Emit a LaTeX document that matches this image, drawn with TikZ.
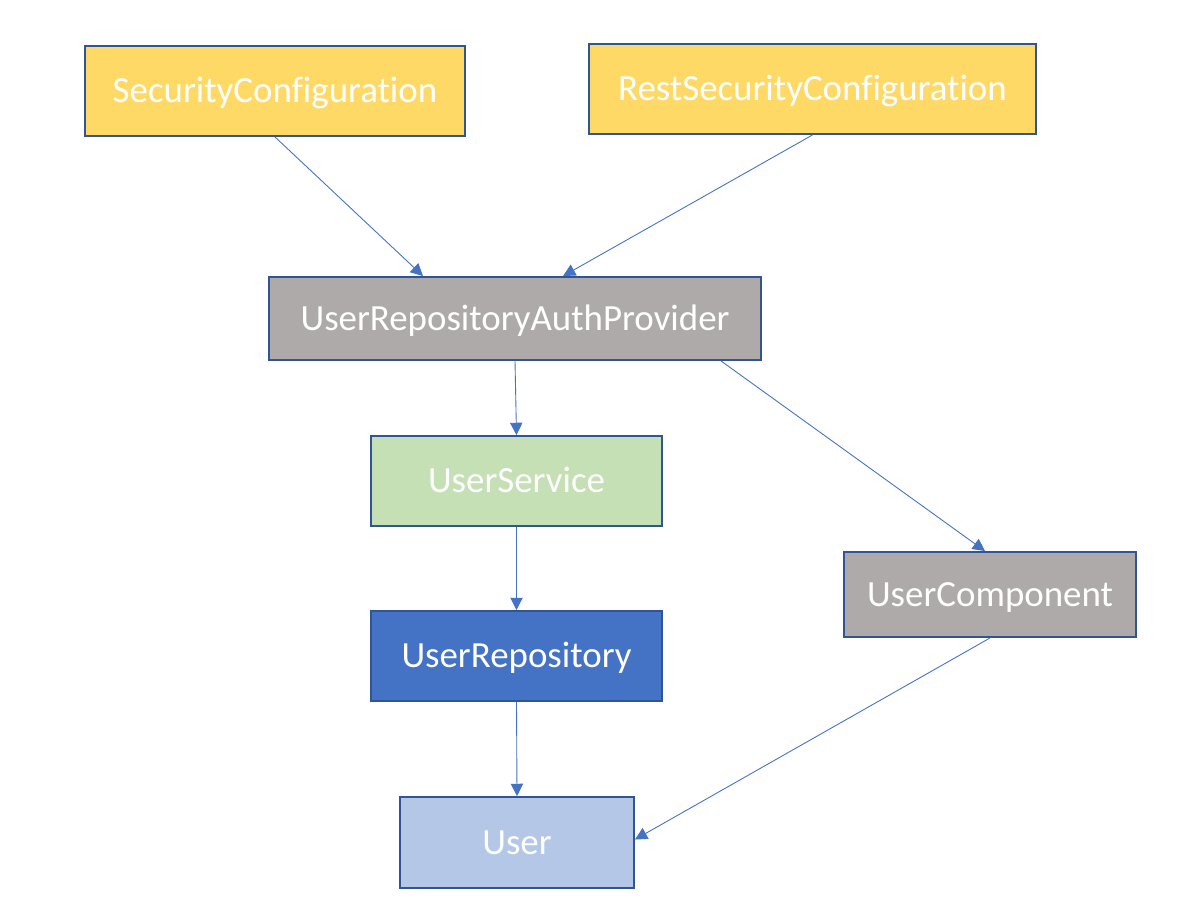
\documentclass[tikz,border=0pt]{standalone}
\usepackage{fontspec}
\setmainfont[Ligatures={NoCommon}]{Carlito}
\usetikzlibrary{arrows.meta, calc}
\definecolor{cfgyellow}{HTML}{FFD966}
\definecolor{provgray}{HTML}{AEAAAA}
\definecolor{svcgreen}{HTML}{C5E0B4}
\definecolor{repoblue}{HTML}{4472C4}
\definecolor{entblue}{HTML}{B4C7E7}
\definecolor{edgeblue}{HTML}{2F5597}
\definecolor{linkblue}{HTML}{4472C4}

\begin{document}
\begin{tikzpicture}[
  x=0.02cm, y=-0.02cm,
  >={Triangle[length=7pt, width=7pt]},
  box/.style={draw=edgeblue, line width=1.1pt, inner sep=0pt,
    text=white, font=\fontsize{21}{25}\selectfont,
    text height=16pt, text depth=2.4pt},
  link/.style={->, linkblue, line width=0.5pt},
]

% ══════════════════════════════════════════════════════
% Canvas
% ══════════════════════════════════════════════════════
\useasboundingbox (0,0) rectangle (1195,910);
\fill[white] (0,0) rectangle (1195,910);

% ══════════════════════════════════════════════════════
% Configuration classes
% ══════════════════════════════════════════════════════
\node[box, fill=cfgyellow, minimum width=7.6cm, minimum height=1.8cm]
  (seccfg) at (275,91) {SecurityConfiguration};
\node[box, fill=cfgyellow, minimum width=8.94cm, minimum height=1.8cm]
  (restcfg) at (812.5,89) {RestSecurityConfiguration};

% ══════════════════════════════════════════════════════
% Auth provider
% ══════════════════════════════════════════════════════
\node[box, fill=provgray, minimum width=9.84cm, minimum height=1.66cm]
  (authprov) at (515,318.5) {UserRepositoryAuthProvider};

% ══════════════════════════════════════════════════════
% Service / repository / entity chain
% ══════════════════════════════════════════════════════
\node[box, fill=svcgreen, minimum width=5.82cm, minimum height=1.8cm]
  (usersvc) at (516.5,481) {UserService};
\node[box, fill=repoblue, minimum width=5.82cm, minimum height=1.8cm]
  (userrepo) at (516.5,656) {UserRepository};
\node[box, fill=entblue, minimum width=4.68cm, minimum height=1.82cm]
  (user) at (517,842.5) {User};

% ── Component on the right ───────────────────────────
\node[box, fill=provgray, minimum width=5.84cm, minimum height=1.7cm]
  (usercomp) at (990,594.5) {UserComponent};

% ══════════════════════════════════════════════════════
% Dependencies
% ══════════════════════════════════════════════════════
\draw[link] (seccfg.south) -- ($(authprov.north)+(-92,0)$);
\draw[link] (restcfg.south) -- ($(authprov.north)+(48,0)$);
\draw[link] (authprov.south) -- (usersvc.north);
\draw[link] ($(authprov.south)+(206,0)$) -- ($(usercomp.north)+(-5,0)$);
\draw[link] (usersvc.south) -- (userrepo.north);
\draw[link] (userrepo.south) -- (user.north);
\draw[link] (usercomp.south) -- ($(user.east)+(0,-3)$);

\end{tikzpicture}
\end{document}
